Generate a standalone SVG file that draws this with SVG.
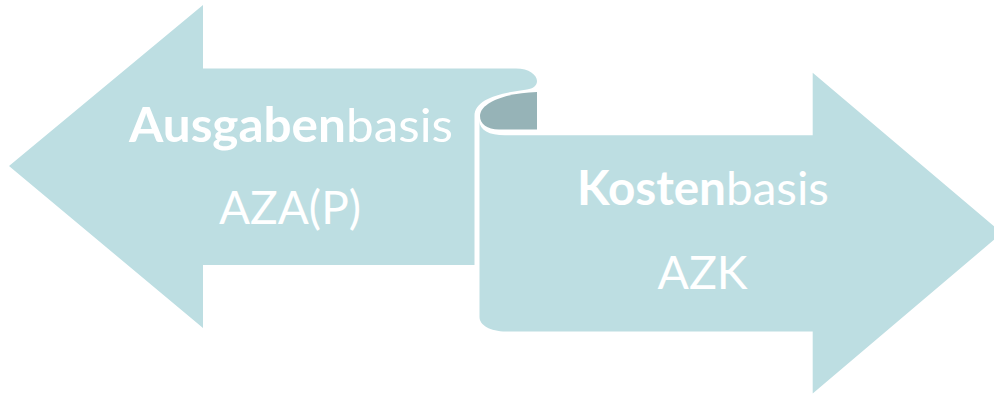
<svg xmlns="http://www.w3.org/2000/svg" width="994" height="396" viewBox="0 0 994 396">
<style>
.arrow{fill:#BDDEE2}
.back{fill:#96B3B7}
.t{font-family:Lato,"Open Sans","Liberation Sans",sans-serif;font-size:47px;fill:#FFFFFF;text-anchor:middle}
.b{font-weight:bold}
</style>
<rect width="994" height="396" fill="#FFFFFF"/>
<g id="connectors"></g>
<g id="node-kosten">
<path class="back" d="M537,92 C505,93 480,103 480,116 C480,124 487,129.5 499,129.5 L537,129.5 Z"/>
<path class="arrow" d="M479.5,121 C479.5,130 489,135.3 505,135.3 L812.7,135.3 L812.7,72.7 L1002,233 L812.7,393.5 L812.7,331.5 L506,331.5 C490,331.5 479.5,325 479.5,317 Z"/>
<text class="t" x="703" y="205" textLength="252" lengthAdjust="spacingAndGlyphs"><tspan class="b">Kosten</tspan>basis</text>
<text class="t" x="702.5" y="288.5" textLength="90" lengthAdjust="spacingAndGlyphs">AZK</text>
</g>
<g id="node-ausgaben">
<path class="arrow" d="M9,166 L203,5 L203,68.5 L516,68.5 C529,68.5 537,75 537,81 C537,86 533,88.5 527,89.5 C500,93 474.5,99 474.5,116 L474.5,265 L203,265 L203,328 Z"/>
<text class="t" x="291" y="142" textLength="324" lengthAdjust="spacingAndGlyphs"><tspan class="b">Ausgaben</tspan>basis</text>
<text class="t" x="290" y="223.5" textLength="142" lengthAdjust="spacingAndGlyphs">AZA(P)</text>
</g>
</svg>
